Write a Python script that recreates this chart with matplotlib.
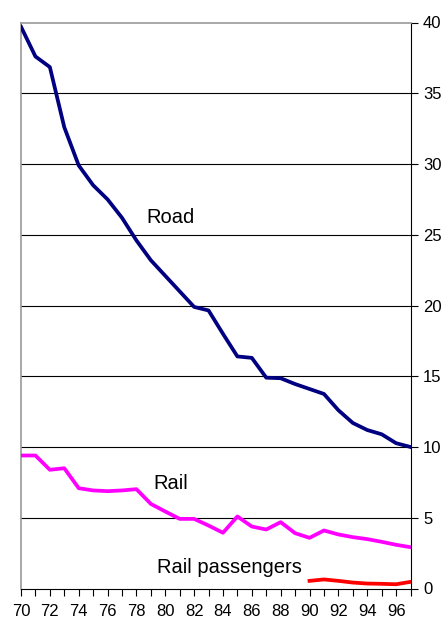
import numpy as np
import matplotlib
matplotlib.use('Agg')
import matplotlib.pyplot as plt

plt.rcParams['font.family'] = ['Liberation Sans', 'DejaVu Sans']

# years 1970-1997 (two-digit labels)
years = np.arange(70, 98)

road = [39.7, 37.6, 36.85, 32.6, 29.9, 28.5, 27.5, 26.2, 24.6, 23.2,
        22.1, 21.0, 19.9, 19.65, 18.0, 16.4, 16.3, 14.9, 14.86, 14.45,
        14.1, 13.75, 12.6, 11.7, 11.2, 10.9, 10.27, 10.0]

rail = [9.4, 9.4, 8.39, 8.5, 7.09, 6.93, 6.88, 6.93, 7.02, 5.98,
        5.44, 4.92, 4.92, 4.45, 3.94, 5.09, 4.38, 4.17, 4.69, 3.91,
        3.58, 4.1, 3.82, 3.63, 3.49, 3.3, 3.09, 2.92]

pass_years = np.arange(90, 98)
rail_passengers = [0.54, 0.64, 0.54, 0.42, 0.35, 0.33, 0.3, 0.47]

y_ticks = [0, 5, 10, 15, 20, 25, 30, 35, 40]

fig = plt.figure(figsize=(4.41, 6.21), dpi=100)
ax = fig.add_axes([21 / 441, 1 - 588.5 / 621, 389.5 / 441, 566 / 621])

# grid lines
for v in y_ticks[1:-1]:
    ax.axhline(v, color='black', lw=0.8, zorder=1)

ax.plot(years, road, color='#000080', lw=2.7, solid_joinstyle='round', zorder=3)
ax.plot(years, rail, color='#ff00ff', lw=2.7, solid_joinstyle='round', zorder=3)
ax.plot(pass_years, rail_passengers, color='#ff0000', lw=2.7, zorder=3)

ax.text(78.67, 25.8, 'Road', fontsize=14.5, va='baseline', ha='left')
ax.text(79.2, 7.0, 'Rail', fontsize=14.5, va='baseline', ha='left')
ax.text(79.4, 1.12, 'Rail passengers', fontsize=14.5, va='baseline', ha='left')

ax.set_xlim(70, 97)
ax.set_ylim(0, 40)

ax.set_xticks(years)
ax.set_xticklabels([str(y) if y % 2 == 0 else '' for y in years])
ax.yaxis.tick_right()
ax.set_yticks(y_ticks)
ax.tick_params(axis='x', direction='out', length=5, width=0.8, pad=6, labelsize=12)
ax.tick_params(axis='y', direction='out', length=5, width=0.8, pad=4, labelsize=12)

ax.spines['left'].set_color('#999999')
ax.spines['top'].set_color('#999999')
ax.spines['left'].set_linewidth(1.2)
ax.spines['top'].set_linewidth(1.2)
ax.spines['right'].set_color('black')
ax.spines['bottom'].set_color('black')

fig.savefig('out.png', dpi=100)
